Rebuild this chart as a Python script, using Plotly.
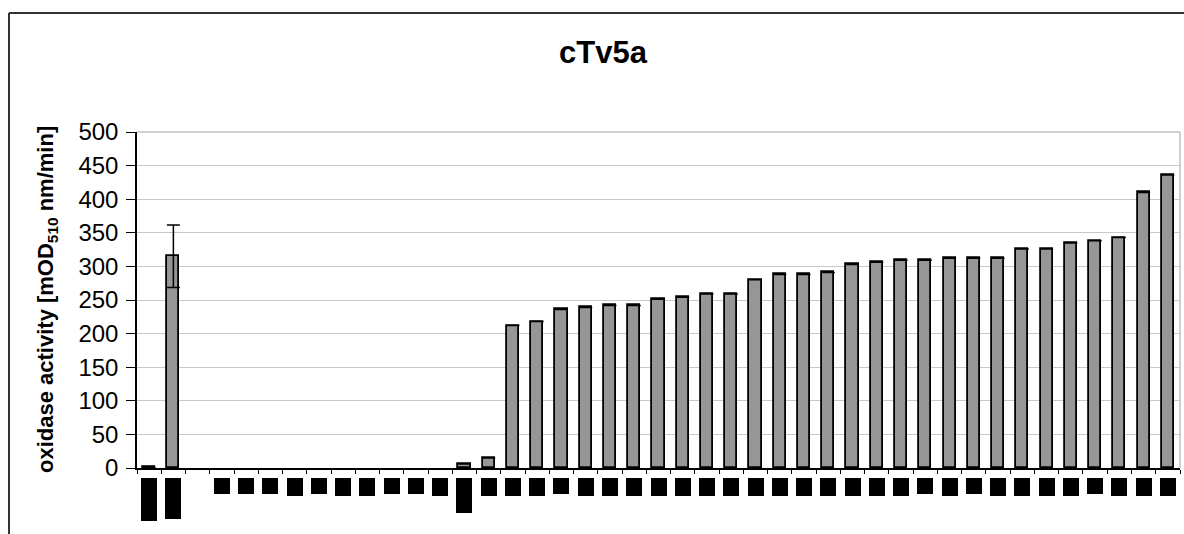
import plotly.graph_objects as go

# Clone index (one category per clone)
clones = list(range(43))

# Oxidase activity, mOD510 nm/min
activity = [1, 315, 0, 0, 0, 0, 0, 0, 0, 0, 0, 0, 0, 6, 15,
            212, 218, 236, 239, 242, 242, 251, 254, 259, 259, 280, 288, 288, 291,
            303, 306, 309, 309, 312, 312, 312, 326, 326, 335, 338, 343, 410, 436]

# Standard deviation (only the reference clone has replicates)
activity_sd = [None, 46.5] + [None] * 41

# Band signal shown under each clone (relative units)
band_signal = [43, 41, None, 16, 16, 16, 18, 16, 18, 18, 16, 16, 18, 35, 18,
               18, 18, 16, 18, 18, 18, 18, 18, 18, 18, 18, 18, 18, 18,
               18, 18, 18, 16, 18, 16, 18, 18, 18, 18, 16, 18, 18, 18]

y_ticks = list(range(0, 501, 50))

W, H = 1184, 534
L, R, T, B = 137, 4, 132, 4
plot_w = W - L - R
plot_h = H - T - B
axis_px = 468                      # pixel row of the activity zero line
main_bottom = (H - B - axis_px) / plot_h
strip_px = H - B - axis_px         # height of the band strip in px
band_gap = 9.7                     # gap between axis and band strip, px

FONT = "Liberation Sans, Arial, sans-serif"

fig = go.Figure()

# zero-activity clones get no bar at all (no outline stub on the axis)
fig.add_trace(go.Bar(
    x=clones, y=[v if v else None for v in activity], width=0.5,
    marker=dict(color="#969696", line=dict(color="black", width=1.8)),
    error_y=dict(type="data", array=activity_sd, symmetric=True,
                 color="black", thickness=1.5, width=6.5),
    xaxis="x", yaxis="y", showlegend=False,
))

fig.add_trace(go.Bar(
    x=clones, y=[None if v is None else -v for v in band_signal],
    base=-band_gap, width=0.66,
    marker=dict(color="black", line=dict(width=0)),
    xaxis="x", yaxis="y2", showlegend=False,
))

fig.update_layout(
    width=W, height=H,
    margin=dict(l=L, r=R, t=T, b=B, autoexpand=False),
    paper_bgcolor="white", plot_bgcolor="white",
    font=dict(family=FONT, color="black"),
    bargap=0,
    xaxis=dict(
        domain=[0, 1], anchor="y", range=[-0.5, 42.5], automargin=False,
        tickmode="array", tickvals=[i - 0.5 for i in range(44)],
        showticklabels=False, ticks="outside", ticklen=4, tickwidth=1.2,
        tickcolor="black", showline=True, linecolor="black", linewidth=1.5,
        showgrid=False, zeroline=False,
    ),
    yaxis=dict(
        domain=[main_bottom, 1], anchor="x", range=[0, 500], automargin=False,
        tickmode="array", tickvals=y_ticks,
        tickfont=dict(size=24, family=FONT, color="black"),
        ticks="outside", ticklen=9, tickwidth=1.2, tickcolor="black",
        ticklabelstandoff=3,
        showline=True, linecolor="black", linewidth=1.5,
        showgrid=True, gridcolor="#c8c8c8", gridwidth=1, zeroline=False,
    ),
    yaxis2=dict(
        domain=[0, main_bottom], anchor="x", range=[-strip_px, 0],
        automargin=False, visible=False, showgrid=False, zeroline=False,
    ),
    annotations=[
        dict(text="<b>cTv5a</b>", xref="paper", yref="paper",
             x=(603 - L) / plot_w, y=(H - B - 53) / plot_h,
             xanchor="center", yanchor="middle", showarrow=False,
             font=dict(size=31, family=FONT, color="black")),
        dict(text="<b>oxidase activity [mOD<sub>510</sub> nm/min]</b>",
             xref="paper", yref="paper",
             x=(47 - L) / plot_w, y=(main_bottom + 1) / 2,
             xanchor="center", yanchor="middle", textangle=-90, showarrow=False,
             font=dict(size=22, family=FONT, color="black")),
    ],
    shapes=[
        # plot-area frame (top and right)
        dict(type="line", xref="paper", yref="paper", x0=0, x1=1, y0=1, y1=1,
             line=dict(color="#c0c0c0", width=1.5)),
        dict(type="line", xref="paper", yref="paper", x0=1, x1=1,
             y0=main_bottom, y1=1, line=dict(color="#c0c0c0", width=1.5)),
        # chart frame (top and left)
        dict(type="line", xref="paper", yref="paper",
             x0=(9 - L) / plot_w, x1=(W + 5 - L) / plot_w,
             y0=(H - B - 13) / plot_h, y1=(H - B - 13) / plot_h,
             line=dict(color="#333333", width=2)),
        dict(type="line", xref="paper", yref="paper",
             x0=(9 - L) / plot_w, x1=(9 - L) / plot_w,
             y0=(H - B - 13) / plot_h, y1=-(B + 5) / plot_h,
             line=dict(color="#333333", width=2)),
    ],
)

fig.write_html("out.html")
